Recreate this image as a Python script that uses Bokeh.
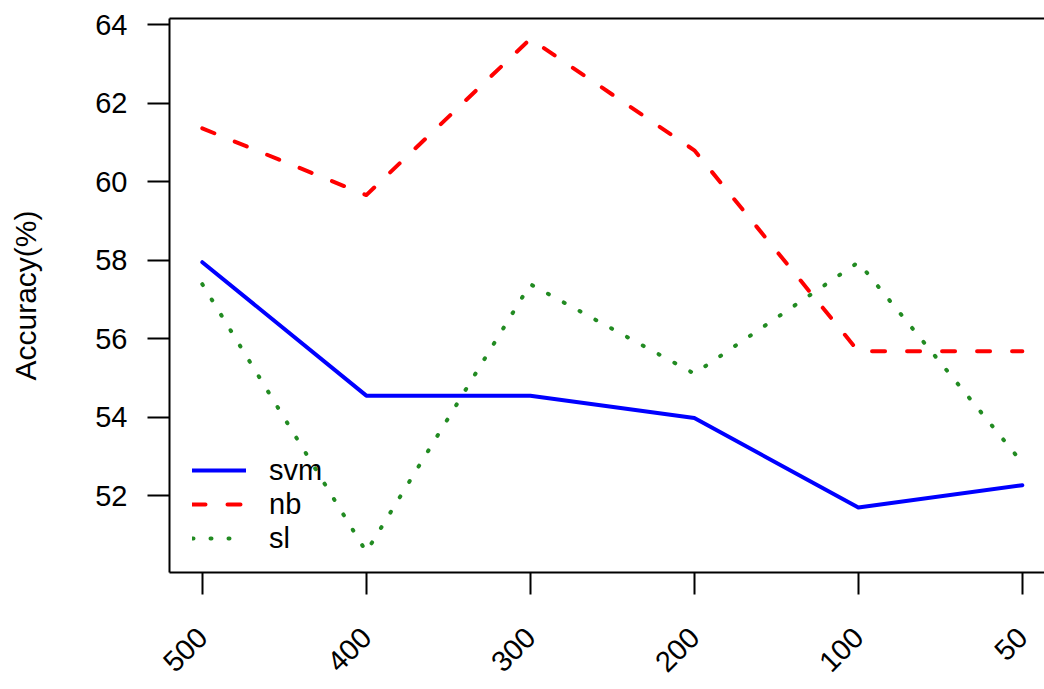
import math
from bokeh.plotting import figure
from bokeh.models import (Range1d, FixedTicker, LinearAxis, ColumnDataSource,
                          Legend, LegendItem)
from bokeh.embed import file_html
from bokeh.resources import INLINE

# ---- data ----
categories = ["500", "400", "300", "200", "100", "50"]
svm = [57.95, 54.55, 54.55, 53.98, 51.70, 52.27]
nb = [61.36, 59.66, 63.64, 60.80, 55.68, 55.68]
sl = [57.39, 50.57, 57.39, 55.11, 57.95, 52.84]
yticks = [52, 54, 56, 58, 60, 62, 64]

idx = list(range(1, len(categories) + 1))

FONT = "Liberation Sans"
FS = "29px"

p = figure(width=1044, height=689, output_backend="svg", toolbar_location=None,
           x_range=Range1d(0.8, 6.135), y_range=Range1d(50.045, 64.159),
           x_axis_location=None, y_axis_location=None)
p.min_border_left = 169
p.min_border_right = 0
p.min_border_top = 18
p.min_border_bottom = 117
p.outline_line_color = None
p.xgrid.visible = False
p.ygrid.visible = False
p.background_fill_color = "white"
p.border_fill_color = "white"

# left axis
ya = LinearAxis(ticker=FixedTicker(ticks=yticks))
ya.axis_line_width = 2
ya.major_tick_line_width = 2
ya.major_tick_in = 0
ya.major_tick_out = 22
ya.minor_tick_line_color = None
ya.major_label_text_font = FONT
ya.major_label_text_font_size = FS
ya.major_label_text_color = "black"
ya.major_label_standoff = 20
ya.axis_label = "Accuracy(%)"
ya.axis_label_text_font = FONT
ya.axis_label_text_font_size = "30px"
ya.axis_label_text_font_style = "normal"
ya.axis_label_text_color = "black"
ya.axis_label_standoff = 50
p.add_layout(ya, "left")

# bottom axis with rotated category labels
xa = LinearAxis(ticker=FixedTicker(ticks=idx))
xa.major_label_overrides = {i: c for i, c in zip(idx, categories)}
xa.axis_line_width = 2
xa.major_tick_line_width = 2
xa.major_tick_in = 0
xa.major_tick_out = 22
xa.minor_tick_line_color = None
xa.major_label_orientation = math.pi / 4
xa.major_label_standoff = 38
xa.major_label_text_font = FONT
xa.major_label_text_font_size = FS
xa.major_label_text_color = "black"
p.add_layout(xa, "below")

# top axis: only the box line
ta = LinearAxis(ticker=FixedTicker(ticks=[]))
ta.axis_line_width = 2
ta.major_tick_out = 0
ta.major_tick_in = 0
ta.minor_tick_line_color = None
ta.major_label_text_color = None
ta.major_label_standoff = 0
p.add_layout(ta, "above")

src = ColumnDataSource(dict(x=idx, svm=svm, nb=nb, sl=sl))

r_svm = p.line("x", "svm", source=src, line_color="#0000FF", line_width=4,
               line_join="round", line_cap="round")
r_nb = p.line("x", "nb", source=src, line_color="#FF0000", line_width=4,
              line_dash="13 22", line_join="round", line_cap="round")
r_sl = p.line("x", "sl", source=src, line_color="#228B22", line_width=4,
              line_dash="1 17", line_join="round", line_cap="round")

legend = Legend(items=[LegendItem(label="svm", renderers=[r_svm]),
                       LegendItem(label="nb", renderers=[r_nb]),
                       LegendItem(label="sl", renderers=[r_sl])],
                location=(23, 17))
legend.border_line_color = None
legend.background_fill_alpha = 0
legend.padding = 0
legend.margin = 0
legend.spacing = 0
legend.glyph_width = 54
legend.glyph_height = 34
legend.label_height = 34
legend.label_standoff = 23
legend.label_text_font = FONT
legend.label_text_font_size = FS
legend.label_text_color = "black"
legend.label_text_baseline = "middle"
p.add_layout(legend, "center")

open("out.html", "w").write(file_html(p, INLINE))
